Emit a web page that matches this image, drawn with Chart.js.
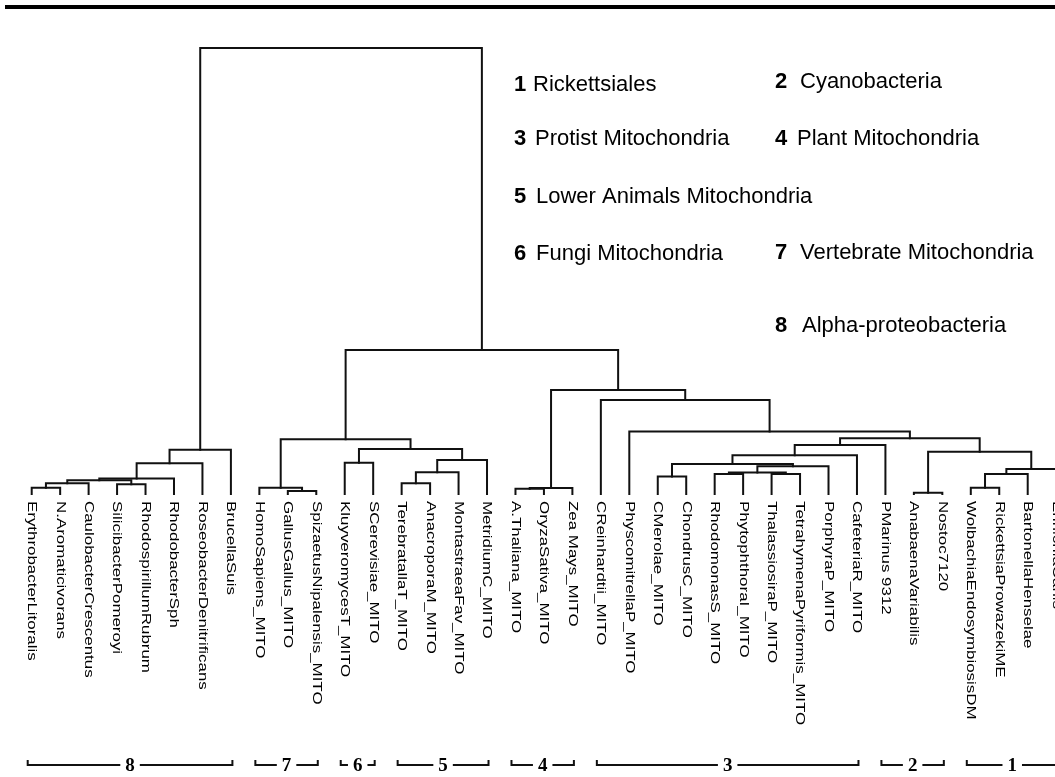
<!DOCTYPE html>
<html>
<head>
<meta charset="utf-8">
<script src="https://cdn.jsdelivr.net/npm/chart.js@4/dist/chart.umd.min.js"></script>
<style>
  html, body { margin: 0; padding: 0; background: #ffffff; }
  #wrap { width: 1055px; height: 777px; }
</style>
</head>
<body>
<div id="wrap"><canvas id="tree" width="1055" height="777"></canvas></div>
<script>
// Leaves of the tree, left to right
const leafNames = [
  'ErythrobacterLitoralis', 'N.Aromaticivorans', 'CaulobacterCrescentus',
  'SilicibacterPomeroyi', 'RhodospirillumRubrum', 'RhodobacterSph',
  'RoseobacterDenitrificans', 'BrucellaSuis',
  'HomoSapiens_MITO', 'GallusGallus_MITO', 'SpizaetusNipalensis_MITO',
  'KluyveromycesT_MITO', 'SCerevisiae_MITO',
  'TerebratallaT_MITO', 'AnacroporaM_MITO', 'MontastraeaFav_MITO', 'MetridiumC_MITO',
  'A.Thaliana_MITO', 'OryzaSativa_MITO', 'Zea Mays_MITO',
  'CReinhardtii_MITO', 'PhyscomitrellaP_MITO', 'CMerolae_MITO', 'ChondrusC_MITO',
  'RhodomonasS_MITO', 'PhytophthoraI_MITO', 'ThalassiosiraP_MITO',
  'TetrahymenaPyriformis_MITO', 'PorphyraP_MITO', 'CafeteriaR_MITO',
  'PMarinus 9312', 'AnabaenaVariabilis', 'Nostoc7120',
  'WolbachiaEndosymbiosisDM', 'RickettsiaProwazekiME', 'BartonellaHenselae',
  'EhrlichiaCanis'
];

// Agglomeration steps: ids below leafNames.length are leaves,
// id leafNames.length + k is the cluster formed at step k
const mergeLeft = [
  0, 37, 3, 38, 40, 41, 42,
  9, 8, 11, 13, 47, 48, 46, 45,
  17, 52,
  22, 24, 26, 55, 57, 54, 59, 60,
  31, 33, 63, 64, 62, 61,
  21, 20, 53, 51, 43
];
const mergeRight = [
  1, 2, 4, 39, 5, 6, 7,
  10, 44, 12, 14, 15, 16, 49, 50,
  18, 19,
  23, 25, 27, 56, 28, 58, 29, 30,
  32, 34, 35, 36, 65, 66,
  67, 68, 69, 70, 71
];
const mergeHeight = [
  1.4, 2.4, 2.2, 3.1, 3.5, 6.9, 9.9,
  0.7, 1.4, 7.0, 2.4, 4.9, 7.6, 10.1, 12.3,
  1.2, 1.35,
  3.9, 4.5, 4.5, 4.8, 6.2, 6.7, 8.7, 11.0,
  0.3, 1.4, 4.5, 5.6, 9.5, 12.5,
  14.0, 21.1, 23.3, 32.3, 100
];

// Clade brackets along the bottom
const groupNumbers   = ['8', '7', '6', '5', '4', '3', '2', '1'];
const groupFirstLeaf = [0, 8, 11, 13, 17, 20, 30, 33];
const groupLastLeaf  = [7, 10, 12, 16, 19, 29, 32, 36];

// Key to the clade numbers
const legendNumbers = ['1', '2', '3', '4', '5', '6', '7', '8'];
const legendNames = [
  'Rickettsiales', 'Cyanobacteria', 'Protist Mitochondria', 'Plant Mitochondria',
  'Lower Animals Mitochondria', 'Fungi Mitochondria', 'Vertebrate Mitochondria',
  'Alpha-proteobacteria'
];

// ---- tree geometry in data units ----
const nLeaves = leafNames.length;
function nodeX(id) {
  if (id < nLeaves) return id;
  const k = id - nLeaves;
  return (nodeX(mergeLeft[k]) + nodeX(mergeRight[k])) / 2;
}
function nodeH(id) {
  return id < nLeaves ? 0 : mergeHeight[id - nLeaves];
}

const linkSets = mergeHeight.map((h, k) => {
  const a = mergeLeft[k], b = mergeRight[k];
  const xa = nodeX(a), xb = nodeX(b);
  return {
    data: [
      { x: xa, y: nodeH(a) },
      { x: xa, y: h },
      { x: xb, y: h },
      { x: xb, y: nodeH(b) }
    ],
    borderColor: '#111111',
    borderWidth: 2,
    borderCapStyle: 'square',
    borderJoinStyle: 'miter',
    pointRadius: 0,
    tension: 0,
    fill: false,
    clip: false
  };
});

// ---- layout (pixels) for the text furniture ----
const keyLayout = [
  { nx: 514, tx: 533, y: 90.5 },
  { nx: 775, tx: 800, y: 88 },
  { nx: 514, tx: 535, y: 145 },
  { nx: 775, tx: 797, y: 145 },
  { nx: 514, tx: 536, y: 203 },
  { nx: 514, tx: 536, y: 260 },
  { nx: 775, tx: 800, y: 259 },
  { nx: 775, tx: 802, y: 332 }
];

const decorPlugin = {
  id: 'decor',
  beforeDraw(chart) {
    const ctx = chart.ctx;
    ctx.save();
    ctx.fillStyle = '#ffffff';
    ctx.fillRect(0, 0, chart.width, chart.height);
    // heavy rule across the top
    ctx.fillStyle = '#000000';
    ctx.fillRect(5, 5, chart.width - 5, 4);
    ctx.restore();
  },
  afterDraw(chart) {
    const ctx = chart.ctx;
    const xs = chart.scales.x, ys = chart.scales.y;
    ctx.save();
    ctx.fillStyle = '#000000';

    // leaf names, running downwards under each tip
    const tipY = ys.getPixelForValue(0);
    ctx.font = '13px "Liberation Sans", Arial, sans-serif';
    ctx.textBaseline = 'middle';
    ctx.textAlign = 'left';
    leafNames.forEach((name, i) => {
      const px = xs.getPixelForValue(i);
      ctx.save();
      ctx.translate(px, tipY + 7);
      ctx.rotate(Math.PI / 2);
      ctx.scale(1.3, 1);
      ctx.fillText(name, 0, 0);
      ctx.restore();
    });

    // clade brackets
    const by = 765;
    ctx.strokeStyle = '#111111';
    ctx.lineWidth = 2;
    ctx.font = 'bold 19px "Liberation Serif", "Times New Roman", serif';
    ctx.textAlign = 'center';
    ctx.textBaseline = 'middle';
    groupNumbers.forEach((num, g) => {
      const left = xs.getPixelForValue(groupFirstLeaf[g]) - 4;
      const right = xs.getPixelForValue(groupLastLeaf[g]) + 1.5;
      const mid = (left + right) / 2;
      const half = ctx.measureText(num).width / 2 + 5;
      ctx.beginPath();
      ctx.moveTo(left, by - 5);
      ctx.lineTo(left, by);
      ctx.lineTo(mid - half, by);
      ctx.moveTo(mid + half, by);
      ctx.lineTo(right, by);
      ctx.lineTo(right, by - 5);
      ctx.stroke();
      ctx.fillText(num, mid, by + 1);
    });

    // key
    ctx.textAlign = 'left';
    ctx.textBaseline = 'alphabetic';
    legendNames.forEach((name, i) => {
      const p = keyLayout[i];
      ctx.font = 'bold 22px "Liberation Sans", Arial, sans-serif';
      ctx.fillText(legendNumbers[i], p.nx, p.y);
      ctx.font = '22px "Liberation Sans", Arial, sans-serif';
      ctx.fillText(name, p.tx, p.y);
    });
    ctx.restore();
  }
};

new Chart(document.getElementById('tree'), {
  type: 'line',
  data: { datasets: linkSets },
  options: {
    responsive: false,
    animation: false,
    devicePixelRatio: 1,
    parsing: true,
    layout: { padding: 0 },
    plugins: { legend: { display: false }, tooltip: { enabled: false } },
    scales: {
      x: { type: 'linear', min: -1.114, max: 35.959, display: false },
      y: { type: 'linear', min: -63.45, max: 110.76, display: false }
    }
  },
  plugins: [decorPlugin]
});
</script>
</body>
</html>
